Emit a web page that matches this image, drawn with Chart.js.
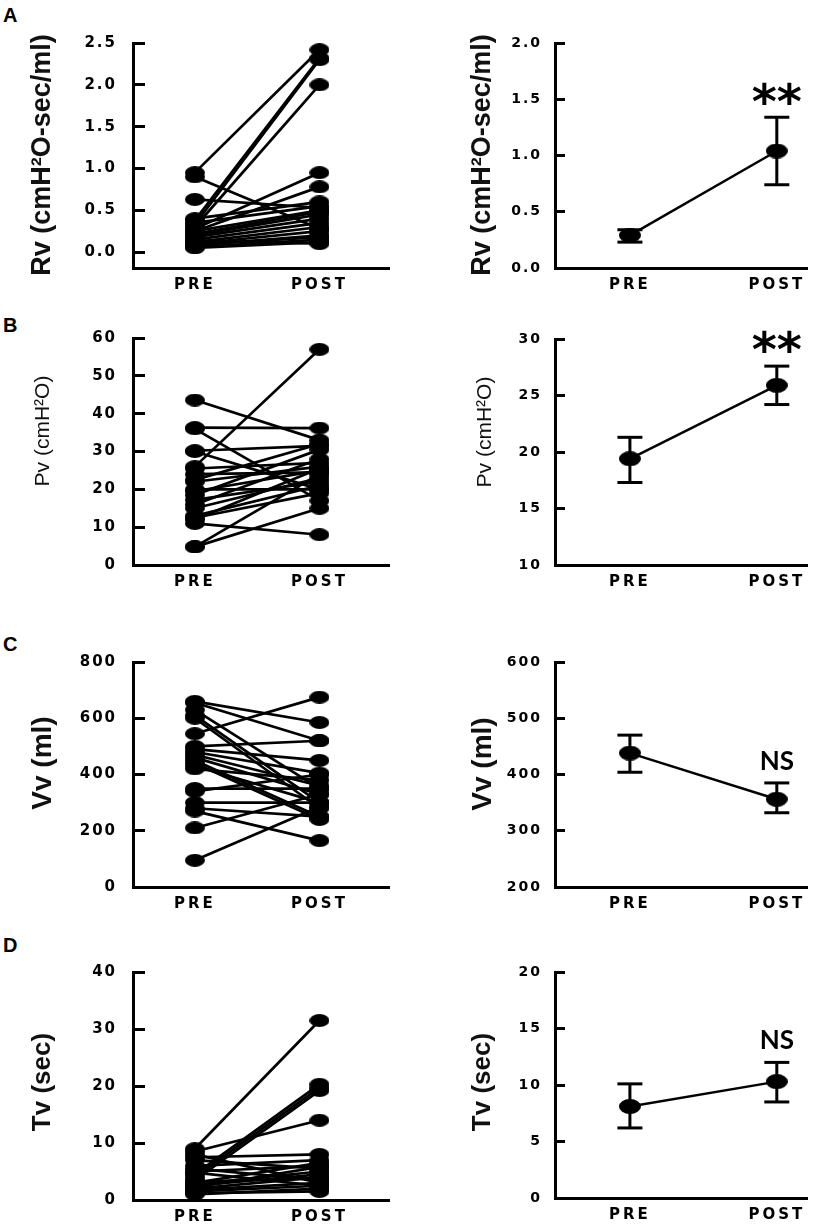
<!DOCTYPE html>
<html>
<head>
<meta charset="utf-8">
<script src="https://cdn.jsdelivr.net/npm/chart.js@4.4.1/dist/chart.umd.min.js"></script>
<style>
  body { margin: 0; background: #fff; }
  #fig { position: relative; width: 823px; height: 1225px; overflow: hidden; background: #fff; }
  #fig canvas { position: absolute; }
  .tag { position: absolute; left: 3px; font: bold 20px/20px "Liberation Sans", Arial, sans-serif; color: #000; }
</style>
</head>
<body>
<div id="fig">
  <div class="tag" style="top:5px">A</div>
  <div class="tag" style="top:315px">B</div>
  <div class="tag" style="top:634px">C</div>
  <div class="tag" style="top:935px">D</div>
</div>
<script>
const groups = ['PRE', 'POST'];

// individual subjects, PRE and POST
const rvPre  = [0.95, 0.90, 0.63, 0.38, 0.33, 0.30, 0.28, 0.25, 0.40, 0.35, 0.22, 0.20, 0.18, 0.15, 0.12, 0.10, 0.08, 0.06, 0.05, 0.14, 0.09, 0.25];
const rvPost = [2.42, 0.28, 0.53, 2.32, 2.30, 2.00, 0.95, 0.78, 0.60, 0.55, 0.48, 0.45, 0.40, 0.35, 0.30, 0.25, 0.20, 0.15, 0.12, 0.10, 0.18, 0.50];
const pvPre  = [43.6, 36.3, 36.0, 30.2, 30.0, 26.0, 25.5, 24.0, 22.5, 22.0, 20.0, 19.5, 18.5, 17.2, 16.0, 15.0, 13.0, 12.5, 11.0, 12.0, 4.8, 4.8];
const pvPost = [33.0, 36.2, 17.0, 31.5, 20.0, 57.0, 27.0, 24.5, 32.0, 26.0, 20.0, 25.0, 30.5, 22.0, 28.0, 23.0, 21.0, 19.0, 8.0, 25.5, 15.0, 24.0];
const vvPre  = [660, 655, 630, 610, 600, 545, 500, 490, 480, 470, 460, 450, 440, 430, 420, 350, 340, 300, 280, 270, 210, 95];
const vvPost = [585, 520, 350, 300, 280, 675, 520, 450, 405, 360, 330, 250, 240, 300, 380, 350, 400, 300, 250, 165, 330, 285];
const tvPre  = [9.0, 4.5, 4.0, 3.5, 8.5, 7.5, 8.0, 7.0, 6.0, 5.5, 5.0, 4.8, 3.0, 2.8, 2.5, 2.0, 1.8, 1.5, 1.2, 1.0, 2.2, 3.2];
const tvPost = [31.5, 20.3, 19.7, 19.2, 14.0, 8.0, 3.0, 5.5, 7.0, 3.5, 6.0, 2.5, 6.5, 5.0, 4.5, 4.0, 3.0, 2.5, 1.5, 2.0, 5.8, 3.8];

// group means with error bar ends
const rvMean = [0.29, 1.04], rvLow = [0.23, 0.74], rvHigh = [0.34, 1.34];
const pvMean = [19.4, 25.9], pvLow = [17.3, 24.2], pvHigh = [21.3, 27.6];
const vvMean = [438, 356],   vvLow = [404, 332],   vvHigh = [470, 385];
const tvMean = [8.1, 10.3],  tvLow = [6.2, 8.5],   tvHigh = [10.1, 12.0];
const sigMarks = ['**', '**', 'NS', 'NS'];

// tick labels
const rvTicks = [0, 0.5, 1.0, 1.5, 2.0, 2.5];
const pvTicks = [0, 10, 20, 30, 40, 50, 60];
const vvTicks = [0, 200, 400, 600, 800];
const tvTicks = [0, 10, 20, 30, 40];
const rvMeanTicks = [0, 0.5, 1.0, 1.5, 2.0];
const pvMeanTicks = [10, 15, 20, 25, 30];
const vvMeanTicks = [200, 300, 400, 500, 600];
const tvMeanTicks = [0, 5, 10, 15, 20];

function makeEllipse(w, h) {
  const c = document.createElement('canvas');
  c.width = w; c.height = h;
  const g = c.getContext('2d');
  g.fillStyle = '#000';
  g.beginPath();
  g.ellipse(w / 2, h / 2, w / 2, h / 2, 0, 0, Math.PI * 2);
  g.fill();
  return c;
}

const cols = {
  L: { left: 0, width: 400, yw: 133, padRight: 10, xMin: -0.496, xMax: 1.56, tickLen: -12, tickPad: 28, tickSize: 15, ySpace: '2px', dot: makeEllipse(20, 13) },
  R: { left: 420, width: 403, yw: 135, padRight: 5, xMin: -0.51, xMax: 1.209, tickLen: -10, tickPad: 23, tickSize: 14, ySpace: '2px', dot: makeEllipse(22, 15) }
};

const boldA = 'bold 27px "Liberation Sans", Arial, sans-serif';
const regB = '21px "Liberation Sans", Arial, sans-serif';
const boldC = 'bold 28px "Liberation Sans", Arial, sans-serif';
const boldD = 'bold 26px "Liberation Sans", Arial, sans-serif';

const panels = [
  { col: 'L', rowTop: 0, yTop: 43, axis: 268, min: -0.19, max: 2.5, ticks: rvTicks, dec: 1, pre: rvPre, post: rvPost,
    title: 'Rv (cmH²O-sec/ml)', font: boldA, tx: 43, ty: 155 },
  { col: 'R', rowTop: 0, yTop: 43, axis: 268, min: 0, max: 2, ticks: rvMeanTicks, dec: 1, mean: rvMean, low: rvLow, high: rvHigh,
    sig: sigMarks[0], gap: 25, title: 'Rv (cmH²O-sec/ml)', font: boldA, tx: 63, ty: 155 },
  { col: 'L', rowTop: 300, yTop: 338, axis: 565, min: 0, max: 60, ticks: pvTicks, dec: 0, pre: pvPre, post: pvPost,
    title: 'Pv (cmH²O)', font: regB, tx: 43, ty: 431 },
  { col: 'R', rowTop: 300, yTop: 339, axis: 565, min: 10, max: 30, ticks: pvMeanTicks, dec: 0, mean: pvMean, low: pvLow, high: pvHigh,
    sig: sigMarks[1], gap: 26, title: 'Pv (cmH²O)', font: regB, tx: 65, ty: 432 },
  { col: 'L', rowTop: 600, yTop: 662, axis: 887, min: 0, max: 800, ticks: vvTicks, dec: 0, pre: vvPre, post: vvPost,
    title: 'Vv (ml)', font: boldC, tx: 43, ty: 763 },
  { col: 'R', rowTop: 600, yTop: 662, axis: 887, min: 200, max: 600, ticks: vvMeanTicks, dec: 0, mean: vvMean, low: vvLow, high: vvHigh,
    sig: sigMarks[2], gap: 21, title: 'Vv (ml)', font: boldC, tx: 63, ty: 764 },
  { col: 'L', rowTop: 900, yTop: 972, axis: 1200, min: 0, max: 40, ticks: tvTicks, dec: 0, pre: tvPre, post: tvPost,
    title: 'Tv (sec)', font: boldD, tx: 43, ty: 1082 },
  { col: 'R', rowTop: 900, yTop: 972, axis: 1198, min: 0, max: 20, ticks: tvMeanTicks, dec: 0, mean: tvMean, low: tvLow, high: tvHigh,
    sig: sigMarks[3], gap: 22, title: 'Tv (sec)', font: boldD, tx: 63, ty: 1082 }
];

function pairSets(pre, post, dot) {
  return pre.map((v, i) => ({
    data: [{ x: 0, y: v }, { x: 1, y: post[i] }],
    borderColor: '#000', borderWidth: 2.7,
    pointStyle: dot, pointRadius: 8, clip: false
  }));
}

function meanSets(mean, low, high, dot) {
  const sets = [{
    data: mean.map((v, i) => ({ x: i, y: v })),
    borderColor: '#000', borderWidth: 2.5,
    pointStyle: dot, pointRadius: 8, clip: false
  }];
  mean.forEach((v, i) => sets.push({
    data: [{ x: i, y: low[i] }, { x: i, y: high[i] }],
    borderColor: '#000', borderWidth: 3,
    pointStyle: 'line', pointRadius: 12.5, pointBorderWidth: 3, pointBorderColor: '#000', clip: false
  }));
  return sets;
}

const fig = document.getElementById('fig');

panels.forEach(p => {
  const col = cols[p.col];
  const h = p.axis - p.rowTop + 34;
  const cv = document.createElement('canvas');
  cv.width = col.width; cv.height = h;
  cv.style.left = col.left + 'px';
  cv.style.top = p.rowTop + 'px';
  fig.appendChild(cv);

  const datasets = p.pre ? pairSets(p.pre, p.post, col.dot) : meanSets(p.mean, p.low, p.high, col.dot);

  const decor = {
    id: 'decor',
    beforeDraw(chart) { chart.ctx.letterSpacing = col.ySpace; },
    afterDatasetsDraw(chart) {
      const ctx = chart.ctx;
      if (p.sig) {
        const x = chart.scales.x.getPixelForValue(1);
        const y = chart.scales.y.getPixelForValue(p.high[1]) - p.gap;
        ctx.save();
        ctx.letterSpacing = '0px';
        ctx.fillStyle = '#000';
        ctx.textAlign = 'center';
        if (p.sig === '**') {
          ctx.font = 'bold 48px "DejaVu Sans", sans-serif';
          ctx.textBaseline = 'alphabetic';
          ctx.fillText(p.sig, x, y + 26);
        } else {
          ctx.font = 'bold 26px Lato, "Open Sans", sans-serif';
          ctx.textBaseline = 'middle';
          ctx.fillText(p.sig, x, y);
        }
        ctx.restore();
      }
      ctx.letterSpacing = '3px';
    },
    afterDraw(chart) {
      const ctx = chart.ctx;
      ctx.letterSpacing = '0px';
      ctx.save();
      ctx.translate(p.tx, p.ty - p.rowTop);
      ctx.rotate(-Math.PI / 2);
      ctx.font = p.font;
      ctx.fillStyle = '#111';
      ctx.textAlign = 'center';
      ctx.textBaseline = 'middle';
      ctx.fillText(p.title, 0, 0);
      ctx.restore();
    }
  };

  new Chart(cv, {
    type: 'line',
    data: { datasets },
    options: {
      responsive: false,
      animation: false,
      events: [],
      layout: { padding: { top: p.yTop - p.rowTop, bottom: 6, left: 0, right: col.padRight } },
      plugins: { legend: { display: false }, tooltip: { enabled: false } },
      scales: {
        x: {
          type: 'linear', min: col.xMin, max: col.xMax,
          afterBuildTicks: s => { s.ticks = groups.map((g, i) => ({ value: i })); },
          afterFit: s => { s.height = 28; s.paddingLeft = 0; s.paddingRight = 0; },
          grid: { display: false, drawTicks: false },
          border: { display: true, color: '#000', width: 3 },
          ticks: {
            z: 1, padding: 8, color: '#000', autoSkip: false, maxRotation: 0,
            font: { family: '"DejaVu Sans", sans-serif', weight: 'bold', size: 15 },
            callback: v => groups[v]
          }
        },
        y: {
          min: p.min, max: p.max,
          afterBuildTicks: s => { s.ticks = p.ticks.map(v => ({ value: v })); },
          afterFit: s => { s.width = col.yw; s.paddingTop = 0; s.paddingBottom = 0; },
          grid: { drawOnChartArea: false, drawTicks: true, tickLength: col.tickLen, tickWidth: 3, tickColor: '#000', color: '#000' },
          border: { display: true, color: '#000', width: 3 },
          ticks: {
            padding: col.tickPad, color: '#000',
            font: { family: '"DejaVu Sans", sans-serif', weight: 'bold', size: col.tickSize },
            callback: v => v.toFixed(p.dec)
          }
        }
      }
    },
    plugins: [decor]
  });
});
</script>
</body>
</html>
